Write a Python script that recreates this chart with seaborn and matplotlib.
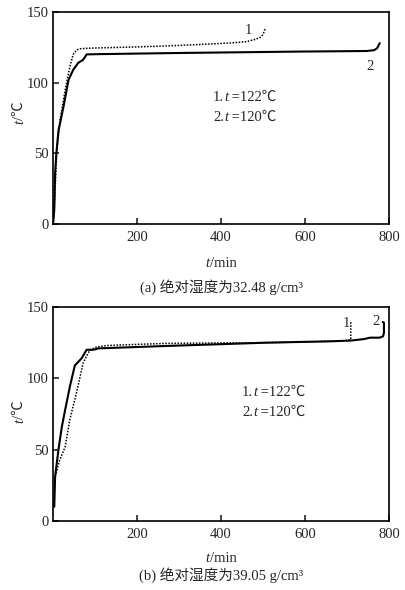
import matplotlib
matplotlib.use("Agg")
import matplotlib.pyplot as plt
import seaborn as sns
import pandas as pd

# ---------------- data ----------------
# (a) absolute humidity 32.48 g/cm3
t1a = [0, 2, 5, 9, 17, 29, 40, 48, 56, 64, 80, 112, 200, 271, 350, 429, 460, 480, 493, 500, 505]
T1a = [0, 5, 24, 52, 74, 95, 111, 120, 123, 124, 124.3, 124.6, 125.3, 126, 127, 128.2, 129, 130.5, 132, 134, 138]
t2a = [0, 3, 5, 8, 13, 25, 37, 48, 60, 71, 76, 80, 112, 300, 588, 747, 765, 772, 778]
T2a = [0, 10, 36, 50, 66, 83, 102, 109, 114, 116, 118, 120, 120.2, 121, 122, 122.4, 123, 124.5, 128]
# (b) absolute humidity 39.05 g/cm3
t1b = [3, 5, 15, 29, 40, 56, 72, 88, 104, 128, 200, 271, 400, 509, 600, 667, 700, 709, 709]
T1b = [25, 31, 42, 52, 71, 90, 111, 120, 122, 123, 123.8, 124.5, 124.8, 125, 125.5, 126, 126.5, 127, 139.5]
t2b = [3, 5, 13, 21, 29, 40, 52, 68, 80, 96, 108, 271, 509, 667, 710, 740, 755, 778, 786, 788, 788, 785]
T2b = [10, 31, 50, 66, 78, 94, 109, 114, 120, 120, 121, 122.7, 125, 126, 126.5, 127.5, 128.5, 128.5, 129.5, 132, 139, 139.5]

x_ticks = [200, 400, 600, 800]
y_ticks = [0, 50, 100, 150]
captions = ["(a) 绝对湿度为32.48 g/cm³", "(b) 绝对湿度为39.05 g/cm³"]
legend_lines = [("1.", "t", " =122℃"), ("2.", "t", " =120℃")]

FS = 10.5

# ---------------- style ----------------
sns.set_style("ticks")
plt.rcParams["font.family"] = ["Liberation Serif", "Noto Sans CJK SC", "DejaVu Sans"]
plt.rcParams["font.size"] = FS

W, H = 405, 590
fig = plt.figure(figsize=(W / 100, H / 100), dpi=100)


def rect(l, t, r, b):
    return [l / W, 1 - b / H, (r - l) / W, (b - t) / H]


ax1 = fig.add_axes(rect(53, 12, 389, 224))
ax2 = fig.add_axes(rect(53, 307, 389, 521))

series = [(ax1, t1a, T1a, t2a, T2a), (ax2, t1b, T1b, t2b, T2b)]
for ax, ta, Ta, tb, Tb in series:
    d1 = pd.DataFrame({"t": ta, "T": Ta})
    d2 = pd.DataFrame({"t": tb, "T": Tb})
    sns.lineplot(data=d1, x="t", y="T", ax=ax, sort=False, estimator=None,
                 color="black", lw=1.1, linestyle=(0, (1, 1)))
    sns.lineplot(data=d2, x="t", y="T", ax=ax, sort=False, estimator=None,
                 color="black", lw=1.5)
    ax.set_xlim(0, 800)
    ax.set_ylim(0, 150)
    ax.set_xticks(x_ticks)
    ax.set_yticks(y_ticks)
    ax.set_xlabel("")
    ax.set_ylabel("")
    ax.tick_params(axis="both", direction="in", length=4, width=1.2, labelsize=FS)
    ax.tick_params(axis="x", pad=5)
    ax.tick_params(axis="y", pad=3)
    for sp in ax.spines.values():
        sp.set_linewidth(1.2)
        sp.set_color("black")

renderer = fig.canvas.get_renderer()


def rich(x_px, y_px, pieces, align="left", rotation=0, size=FS):
    """pieces: list of (text, style). (x_px, y_px): anchor in image pixels,
    y_px is the visual centre of the text line."""
    texts, widths = [], []
    for s, st in pieces:
        t = fig.text(0, 0, s, style=st, fontsize=size, ha="left", va="baseline",
                     rotation=rotation, rotation_mode="anchor")
        bb = t.get_window_extent(renderer)
        widths.append(bb.width if rotation == 0 else bb.height)
        texts.append(t)
    total = sum(widths)
    off = 5.0  # baseline offset from visual centre
    if rotation == 0:
        x = x_px - (total / 2 if align == "center" else 0)
        y = y_px + off
        for t, w in zip(texts, widths):
            t.set_position((x / W, 1 - y / H))
            x += w
    else:
        x = x_px + off
        y = y_px + total / 2
        for t, w in zip(texts, widths):
            t.set_position((x / W, 1 - y / H))
            y -= w


# axis labels
rich(18, 113, [("t", "italic"), ("/℃", "normal")], rotation=90)
rich(18, 412, [("t", "italic"), ("/℃", "normal")], rotation=90)
rich(221, 262, [("t", "italic"), ("/min", "normal")], align="center")
rich(221, 557, [("t", "italic"), ("/min", "normal")], align="center")

# captions
rich(221, 287, [(captions[0], "normal")], align="center")
rich(221, 575, [(captions[1], "normal")], align="center")

# legend texts
for (a, b, c), yy in zip(legend_lines, [96, 116]):
    rich(213, yy, [(a, "normal"), (b, "italic"), (c, "normal")])
for (a, b, c), yy in zip(legend_lines, [391, 411]):
    rich(242, yy, [(a, "normal"), (b, "italic"), (c, "normal")])

# curve labels
rich(248, 29, [("1", "normal")], align="center")
rich(370, 65, [("2", "normal")], align="center")
rich(346, 322, [("1", "normal")], align="center")
rich(376, 320, [("2", "normal")], align="center")

fig.savefig("out.png", dpi=100)
